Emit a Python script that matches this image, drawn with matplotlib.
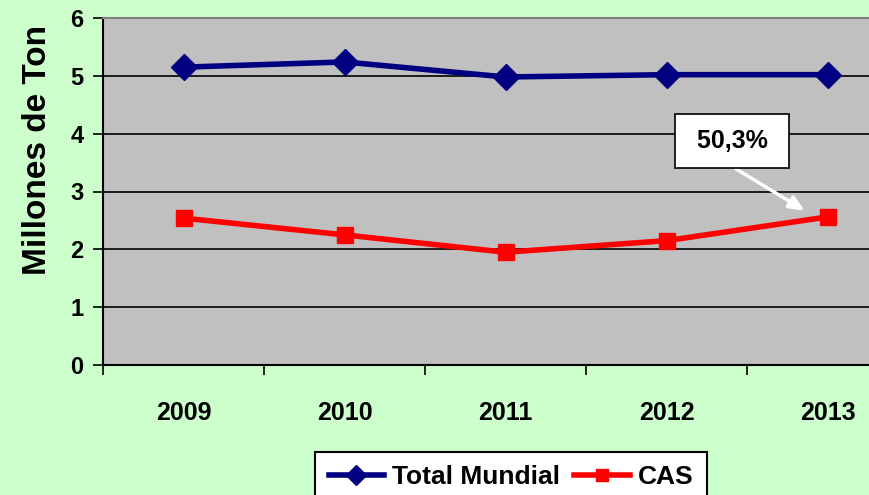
import numpy as np
import matplotlib
matplotlib.use("Agg")
import matplotlib.pyplot as plt

# values (millones de ton)
years = ["2009", "2010", "2011", "2012", "2013"]
total_mundial = [5.15, 5.24, 4.98, 5.02, 5.02]
cas = [2.54, 2.25, 1.95, 2.15, 2.56]
yticks = [0, 1, 2, 3, 4, 5, 6]

plt.rcParams['font.family'] = ['Liberation Sans', 'DejaVu Sans']
plt.rcParams['font.weight'] = 'bold'

fig = plt.figure(figsize=(8.69, 4.95), dpi=100, facecolor='#CCFFCC')
ax = fig.add_axes([103/869, 1-365/495, 805/869, 347/495])
ax.set_facecolor('#C0C0C0')

x = np.arange(1, len(years)+1)
ax.plot(x, total_mundial, color='#000080', lw=4, marker='D', ms=13,
        label='Total Mundial', zorder=3, clip_on=False)
ax.plot(x, cas, color='#FF0000', lw=4, marker='s', ms=11.5,
        label='CAS', zorder=3, clip_on=False)

ax.set_xlim(0.5, len(years)+0.5)
ax.set_ylim(0, 6)
ax.set_yticks(yticks)
ax.yaxis.grid(True, color='black', lw=1.2)
ax.set_axisbelow(True)
ax.set_xticks(np.arange(0.5, len(years)+1, 1))
ax.set_xticklabels([])
ax.set_xticks(x, minor=True)
ax.set_xticklabels(years, minor=True, fontsize=18, fontweight='bold')
ax.tick_params(axis='x', which='minor', length=0, pad=26)
ax.tick_params(axis='x', which='major', length=7, width=1.2, direction='out')
ax.tick_params(axis='y', length=7, width=1.2, direction='out', labelsize=17, pad=7)

ax.spines['left'].set_linewidth(1.5)
ax.spines['bottom'].set_linewidth(1.5)
ax.spines['top'].set_color('#808080')
ax.spines['top'].set_linewidth(1.5)
ax.spines['right'].set_visible(False)

fig.text(38/869, 1-150/495, 'Millones de Ton', rotation=90, ha='center', va='center',
         fontsize=24, fontweight='bold')

ax.annotate('', xy=(807/869, 1-212/495), xycoords='figure fraction',
            xytext=(733/869, 1-167/495), textcoords='figure fraction',
            arrowprops=dict(arrowstyle='-|>,head_length=0.9,head_width=0.4', color='white', lw=2.5))
fig.text(732/869, 1-141/495, ' 50,3% ', ha='center', va='center', fontsize=18, fontweight='bold',
         bbox=dict(boxstyle='square,pad=0.6', fc='white', ec='black', lw=1.2))

leg = fig.legend(loc='upper center', bbox_to_anchor=(511/869, 1-452/495), ncol=2,
                 frameon=True, fancybox=False, edgecolor='black', framealpha=1,
                 fontsize=19, handlelength=2.1, columnspacing=0.55, handletextpad=0.3,
                 markerscale=0.8, borderpad=0.5, borderaxespad=0)
leg.get_frame().set_linewidth(1.5)

fig.savefig('out.png', dpi=100, facecolor=fig.get_facecolor())
